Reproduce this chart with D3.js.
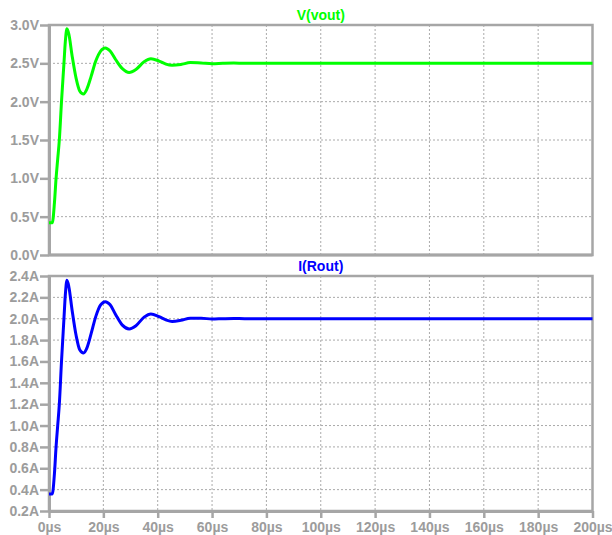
<!DOCTYPE html>
<html>
<head>
<meta charset="utf-8">
<script src="https://d3js.org/d3.v7.min.js"></script>
<style>
body { margin: 0; background: #fff; }
svg text { font-family: "Liberation Sans", Arial, sans-serif; font-weight: bold; }
</style>
</head>
<body>
<svg id="chart" width="612" height="535"></svg>
<script>
// sample times (µs) and traces
var timeUs = [0, 1.2, 2.0, 2.6, 3.2, 3.8, 4.6, 5.5, 6.0, 6.6, 7.3, 8.5, 10, 11.3, 12.7, 14, 15.5, 17.2, 19, 20.7, 22.5, 24.5, 27, 29.5, 32, 35, 37.5, 40.5, 43, 45.3, 48.5, 52, 56, 60, 64, 68, 72, 80, 100, 120, 140, 160, 180, 200];
var vout = [0.42, 0.42, 0.68, 1.0, 1.25, 1.5, 2.0, 2.5, 2.78, 2.95, 2.88, 2.6, 2.3, 2.14, 2.1, 2.17, 2.33, 2.53, 2.66, 2.70, 2.66, 2.55, 2.43, 2.38, 2.42, 2.52, 2.56, 2.53, 2.49, 2.475, 2.485, 2.51, 2.505, 2.495, 2.5, 2.503, 2.5, 2.5, 2.5, 2.5, 2.5, 2.5, 2.5, 2.5];
var iRout = [0.36, 0.36, 0.55, 0.8, 1.0, 1.2, 1.6, 2.0, 2.22, 2.36, 2.3, 2.08, 1.84, 1.71, 1.68, 1.73, 1.86, 2.02, 2.13, 2.16, 2.13, 2.04, 1.94, 1.905, 1.935, 2.015, 2.045, 2.02, 1.99, 1.975, 1.985, 2.005, 2.005, 1.997, 2.0, 2.002, 2.0, 2.0, 2.0, 2.0, 2.0, 2.0, 2.0, 2.0];

var xTicks = [0, 20, 40, 60, 80, 100, 120, 140, 160, 180, 200];
var vTicks = [0, 0.5, 1.0, 1.5, 2.0, 2.5, 3.0];
var iTicks = [0.2, 0.4, 0.6, 0.8, 1.0, 1.2, 1.4, 1.6, 1.8, 2.0, 2.2, 2.4];

var gray = "#a6a6a6";
var svg = d3.select("#chart");
var left = 49, right = 592.5;

var x = d3.scaleLinear().domain([0, 200]).range([left, right]);

var panels = [
	{ title: "V(vout)", color: "#00ff00", values: vout, ticks: vTicks, domain: [0, 3], top: 25, bottom: 255, unit: "V", fmt: d3.format(".1f"), xLabels: false },
	{ title: "I(Rout)", color: "#0000ff", values: iRout, ticks: iTicks, domain: [0.2, 2.4], top: 276, bottom: 511, unit: "A", fmt: d3.format(".1f"), xLabels: true }
];

panels.forEach(function (p) {
	var y = d3.scaleLinear().domain(p.domain).range([p.bottom, p.top]);
	var g = svg.append("g");

	// dotted grid
	g.selectAll(".vgrid").data(xTicks.slice(1, -1)).enter().append("line")
		.attr("x1", function (d) { return x(d); })
		.attr("x2", function (d) { return x(d); })
		.attr("y1", p.top).attr("y2", p.bottom)
		.attr("stroke", "#aaa").attr("stroke-width", 1).attr("stroke-dasharray", "2,2");
	g.selectAll(".hgrid").data(p.ticks.slice(1, -1)).enter().append("line")
		.attr("x1", left).attr("x2", right)
		.attr("y1", function (d) { return y(d); })
		.attr("y2", function (d) { return y(d); })
		.attr("stroke", "#aaa").attr("stroke-width", 1).attr("stroke-dasharray", "2,2");

	// frame
	g.append("rect")
		.attr("x", left).attr("y", p.top)
		.attr("width", right - left).attr("height", p.bottom - p.top)
		.attr("fill", "none").attr("stroke", gray).attr("stroke-width", 2.5);

	// y axis
	var ya = g.append("g").attr("transform", "translate(" + left + ",0)")
		.call(d3.axisLeft(y).tickValues(p.ticks).tickSize(9).tickSizeOuter(0).tickPadding(1)
			.tickFormat(function (d) { return p.fmt(d) + p.unit; }));
	ya.select(".domain").attr("stroke", gray).attr("stroke-width", 3);
	ya.selectAll(".tick line").attr("stroke", gray).attr("stroke-width", 2.5);
	ya.selectAll(".tick text").attr("fill", "#9c9c9c").attr("font-size", 14).attr("font-family", null);

	if (p.xLabels) {
		var xa = g.append("g").attr("transform", "translate(0," + p.bottom + ")")
			.call(d3.axisBottom(x).tickValues(xTicks).tickSize(7).tickSizeOuter(0).tickPadding(4)
				.tickFormat(function (d) { return d + "µs"; }));
		xa.select(".domain").attr("stroke", gray).attr("stroke-width", 3);
		xa.selectAll(".tick line").attr("stroke", gray).attr("stroke-width", 2.5);
		xa.selectAll(".tick text").attr("fill", "#9c9c9c").attr("font-size", 14).attr("font-family", null);
	} else {
		g.append("line").attr("x1", left).attr("x2", right)
			.attr("y1", p.bottom).attr("y2", p.bottom)
			.attr("stroke", gray).attr("stroke-width", 3);
	}

	// trace
	var line = d3.line()
		.x(function (d, i) { return x(timeUs[i]); })
		.y(function (d) { return y(d); })
		.curve(d3.curveMonotoneX);
	g.append("path").datum(p.values)
		.attr("d", line)
		.attr("fill", "none")
		.attr("stroke", p.color)
		.attr("stroke-width", 3)
		.attr("stroke-linejoin", "round");

	g.append("text")
		.attr("x", (left + right) / 2).attr("y", p.top - 5)
		.attr("text-anchor", "middle")
		.attr("font-size", 14)
		.attr("fill", p.color)
		.text(p.title);
});
</script>
</body>
</html>
